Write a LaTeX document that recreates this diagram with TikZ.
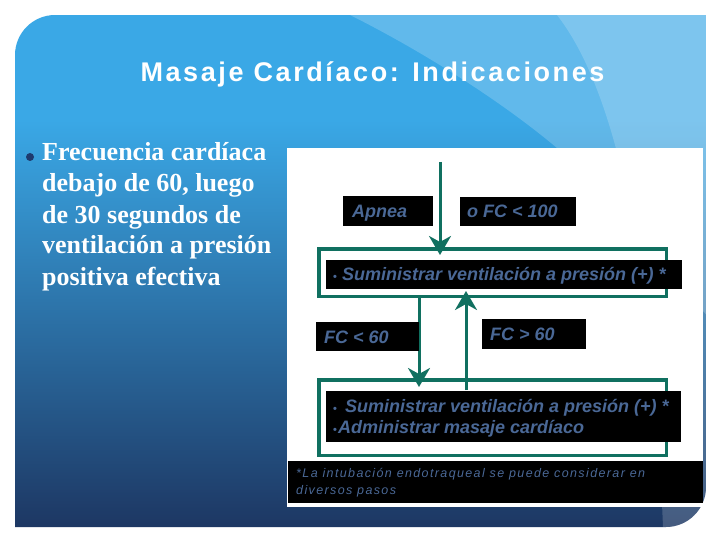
\documentclass[tikz,border=0pt]{standalone}
\usepackage{fontspec}
\setmainfont{Liberation Serif}
\newfontfamily\titlefont[LetterSpace=9.6]{Liberation Sans}
\newfontfamily\boxfont{Liberation Sans}
\newfontfamily\notefont[LetterSpace=11]{Liberation Sans}
\usetikzlibrary{arrows.meta}
\definecolor{skyA}{RGB}{58,168,230}
\definecolor{skyM}{RGB}{40,104,164}
\definecolor{navyB}{RGB}{29,55,99}
\definecolor{flowgreen}{RGB}{16,112,96}
\definecolor{slate}{RGB}{74,104,150}
\definecolor{dotblue}{RGB}{30,58,110}
\newcommand{\smalldot}{{\fontsize{11}{11}\selectfont\upshape •}}
\tikzset{
  gbox/.style={draw=flowgreen, line width=3.5pt, rectangle, inner sep=0pt},
  flow/.style={draw=flowgreen, line width=3pt, -{Stealth[length=19pt,width=22pt,inset=6pt]}},
  lefttxt/.style={inner sep=0pt, anchor=base west, text=white, font=\fontsize{26}{31}\selectfont\bfseries},
  boxtxt/.style={inner sep=0pt, anchor=base west, text=slate, font=\boxfont\fontsize{18}{21}\selectfont\bfseries\itshape},
  notetxt/.style={inner sep=0pt, anchor=base west, text=slate, font=\notefont\fontsize{12.5}{17}\selectfont\itshape},
}
\begin{document}
\begin{tikzpicture}[x=1pt,y=-1pt]
\useasboundingbox (0,0) rectangle (720,540);
\fill[white] (0,0) rectangle (720,540);
% panel
\begin{scope}
\clip (15,527) -- (15,55) .. controls (15,33) and (33,15) .. (55,15) -- (706,15) -- (706,487) .. controls (706,509) and (688,527) .. (666,527) -- cycle;
\fill[skyA] (15,15) rectangle (706,121);
\shade[top color=skyA, middle color=skyM, bottom color=navyB] (15,120) rectangle (706,527);
\fill[white, opacity=0.2] (350,15) .. controls (420,50) and (500,100) .. (557,148) -- (720,330) -- (720,0) -- cycle;
\fill[white, opacity=0.18] (557,15) .. controls (600,70) and (650,200) .. (663,527) -- (720,527) -- (720,0) -- cycle;
\end{scope}
% title
\node[inner sep=0pt, anchor=base, text=white, font=\titlefont\fontsize{27}{32}\selectfont\bfseries] (title) at (372.5,82) {Masaje Cardíaco: Indicaciones};
% left bullet text
\fill[dotblue] (30,157) circle (4pt);
\node[lefttxt] (l1) at (42,161) {Frecuencia cardíaca};
\node[lefttxt] (l2) at (42,192) {debajo de 60, luego};
\node[lefttxt] (l3) at (42,223) {de 30 segundos de};
\node[lefttxt] (l4) at (42,254) {ventilación a presión};
\node[lefttxt] (l5) at (42,285) {positiva efectiva};
% diagram area
\fill[white] (287,148) rectangle (703,507);
\node[gbox, minimum width=347.5pt, minimum height=47.5pt] (g1) at (492.5,272.5) {};
\node[gbox, minimum width=347.5pt, minimum height=75.5pt] (g2) at (492.5,417.5) {};
\coordinate (a0) at (440,162);
\coordinate (a1) at (440,255);
\coordinate (b0) at (419,298);
\coordinate (b1) at (419,387);
\coordinate (c0) at (466,390);
\coordinate (c1) at (466,291);
\draw[flow] (a0) -- (a1);
\draw[flow] (b0) -- (b1);
\draw[flow] (c0) -- (c1);
% black label boxes
\fill[black] (343,196) rectangle (433,226);
\fill[black] (460,197) rectangle (576,226);
\fill[black] (326,260) rectangle (682,289);
\fill[black] (316,322) rectangle (419,351);
\fill[black] (482,319) rectangle (586,349);
\fill[black] (326,391) rectangle (681,442);
\fill[black] (288,461) rectangle (703,503);
\node[boxtxt] (apnea) at (352,218) {Apnea};
\node[boxtxt] (fc100) at (467,218) {o FC < 100};
\node[boxtxt] (vent1) at (333,280) {\smalldot\ Suministrar ventilación a presión (+) *};
\node[boxtxt] (fc60a) at (324,343) {FC < 60};
\node[boxtxt] (fc60b) at (490,340) {FC > 60};
\node[boxtxt] (vent2) at (333,412) {\smalldot\ \,Suministrar ventilación a presión (+) *};
\node[boxtxt] (masaje) at (333,433) {\smalldot\kern1ptAdministrar masaje cardíaco};
\node[notetxt] (note1) at (296,477) {*La intubación endotraqueal se puede considerar en};
\node[notetxt] (note2) at (296,494) {diversos pasos};
\end{tikzpicture}
\end{document}
